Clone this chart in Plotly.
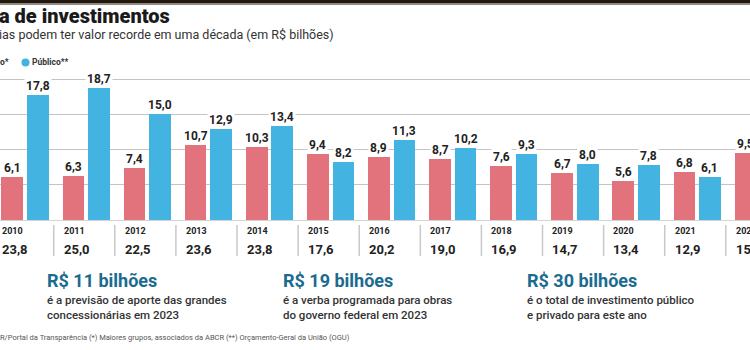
import plotly.graph_objects as go

years = ["2010", "2011", "2012", "2013", "2014", "2015", "2016", "2017", "2018", "2019", "2020", "2021", "2022"]
privado = [6.1, 6.3, 7.4, 10.7, 10.3, 9.4, 8.9, 8.7, 7.6, 6.7, 5.6, 6.8, 9.5]
publico = [17.8, 18.7, 15.0, 12.9, 13.4, 8.2, 11.3, 10.2, 9.3, 8.0, 7.8, 6.1, 6.4]
totais = ["23,8", "25,0", "22,5", "23,6", "23,8", "17,6", "20,2", "19,0", "16,9", "14,7", "13,4", "12,9", "15,9"]

title_text = "a de investimentos"
subtitle_text = "ias podem ter valor recorde em uma década (em R$ bilhões)"
legend_red_text = "o*"
legend_blue_text = "Público**"
callouts = [
    ("R$ 11 bilhões", "é a previsão de aporte das grandes<br>concessionárias em 2023"),
    ("R$ 19 bilhões", "é a verba programada para obras<br>do governo federal em 2023"),
    ("R$ 30 bilhões", "é o total de investimento público<br>e privado para este ano"),
]
footer_text = "R/Portal da Transparência (*) Maiores grupos, associados da ABCR (**) Orçamento-Geral da União (OGU)"

RED = "#e2737d"
BLUE = "#43b4e2"
TEAL = "#1b6b8e"
FONT = "Roboto"

W, H = 750, 350
PLOT_TOP, PLOT_BOT = 60, 220


def py(px):
    return (PLOT_BOT - px) / (PLOT_BOT - PLOT_TOP)


def pxx(px):
    return px / W


x = list(range(len(years)))
BW = 0.355
RED_OFF = -0.385
BLUE_OFF = 0.033

fig = go.Figure()
fig.add_trace(go.Bar(x=x, y=privado, width=BW, offset=RED_OFF, marker=dict(color=RED, line=dict(width=0)),
                     name="Privado*", hoverinfo="skip"))
fig.add_trace(go.Bar(x=x, y=publico, width=BW, offset=BLUE_OFF, marker=dict(color=BLUE, line=dict(width=0)),
                     name="Público**", hoverinfo="skip"))

ann = []
for i, (a, b) in enumerate(zip(privado, publico)):
    for v, off in ((a, RED_OFF), (b, BLUE_OFF)):
        ann.append(dict(x=i + off + BW / 2, y=v, xref="x", yref="y", text="<b>%s</b>" % f"{v:.1f}".replace(".", ","),
                        showarrow=False, yanchor="bottom", xanchor="center", bgcolor="white", borderpad=1,
                        font=dict(family=FONT, size=12, color="#222")))
    ann.append(dict(x=i + RED_OFF, y=py(231), xref="x", yref="paper", text="<b>%s</b>" % years[i],
                    showarrow=False, xanchor="left", yanchor="middle", xshift=-1,
                    font=dict(family=FONT, size=9, color="#222")))
    ann.append(dict(x=i + RED_OFF, y=py(249), xref="x", yref="paper", text="<b>%s</b>" % totais[i],
                    showarrow=False, xanchor="left", yanchor="middle", xshift=-1,
                    font=dict(family=FONT, size=13, color="#222")))

shapes = []
for i in range(1, len(years)):
    shapes.append(dict(type="line", xref="x", yref="paper", x0=i - 0.53, x1=i - 0.53, y0=py(225), y1=py(256),
                       line=dict(color="#c8c8c8", width=1.5)))

# header band
shapes.append(dict(type="rect", xref="paper", yref="paper", x0=0, x1=1, y0=py(3.5), y1=py(-1),
                   fillcolor="#21170b", line=dict(width=0)))
shapes.append(dict(type="line", xref="paper", yref="paper", x0=0, x1=1, y0=py(4.5), y1=py(4.5),
                   line=dict(color="#8a8a8a", width=1)))
# legend dot
shapes.append(dict(type="circle", xref="paper", yref="paper", x0=pxx(21.5), x1=pxx(29.5), y0=py(58.5), y1=py(66.5),
                   fillcolor=BLUE, line=dict(width=0)))

ann.append(dict(x=0, y=py(16), xref="paper", yref="paper", text=title_text, showarrow=False,
                xanchor="left", yanchor="middle", xshift=-2, borderpad=0,
                font=dict(family=FONT, size=20, color="#1a1a1a", weight=900)))
ann.append(dict(x=0, y=py(34.5), xref="paper", yref="paper", text=subtitle_text, showarrow=False,
                xanchor="left", yanchor="middle", xshift=-2, borderpad=0,
                font=dict(family=FONT, size=12.5, color="#333")))
ann.append(dict(x=0, y=py(61.5), xref="paper", yref="paper", text="<b>%s</b>" % legend_red_text, showarrow=False,
                xanchor="left", yanchor="middle", xshift=-2, font=dict(family=FONT, size=8.5, color="#333")))
ann.append(dict(x=pxx(32), y=py(61.5), xref="paper", yref="paper", text="<b>%s</b>" % legend_blue_text, showarrow=False,
                xanchor="left", yanchor="middle", xshift=-2, font=dict(family=FONT, size=8.5, color="#333")))

for (head, sub), xp in zip(callouts, (47, 283, 527)):
    ann.append(dict(x=pxx(xp), y=py(280), xref="paper", yref="paper", text="<b>%s</b>" % head, showarrow=False,
                    xanchor="left", yanchor="middle", xshift=-2, font=dict(family=FONT, size=18, color=TEAL)))
    ann.append(dict(x=pxx(xp), y=py(291), xref="paper", yref="paper", text=sub, showarrow=False, align="left",
                    xanchor="left", yanchor="top", xshift=-2,
                    font=dict(family=FONT, size=11.5, color="#333", weight=500)))

ann.append(dict(x=0, y=py(337), xref="paper", yref="paper", text=footer_text, showarrow=False,
                xanchor="left", yanchor="middle", xshift=-2, font=dict(family=FONT, size=7.5, color="#555")))

fig.update_layout(
    width=W, height=H,
    margin=dict(l=0, r=0, t=PLOT_TOP, b=H - PLOT_BOT, pad=0),
    paper_bgcolor="white", plot_bgcolor="white",
    showlegend=False,
    xaxis=dict(range=[-0.409, 11.866], showgrid=False, zeroline=False, showticklabels=False, ticks="",
               showline=False, fixedrange=True),
    yaxis=dict(range=[0, 22.7], dtick=5, tick0=0, showgrid=True, gridcolor="#c4c4c4", gridwidth=1.3,
               zeroline=True, zerolinecolor="#d4d4d4", zerolinewidth=1,
               showticklabels=False, ticks="", showline=False, fixedrange=True),
    annotations=ann, shapes=shapes,
    bargap=0, barmode="overlay",
)

fig.write_html("out.html")
